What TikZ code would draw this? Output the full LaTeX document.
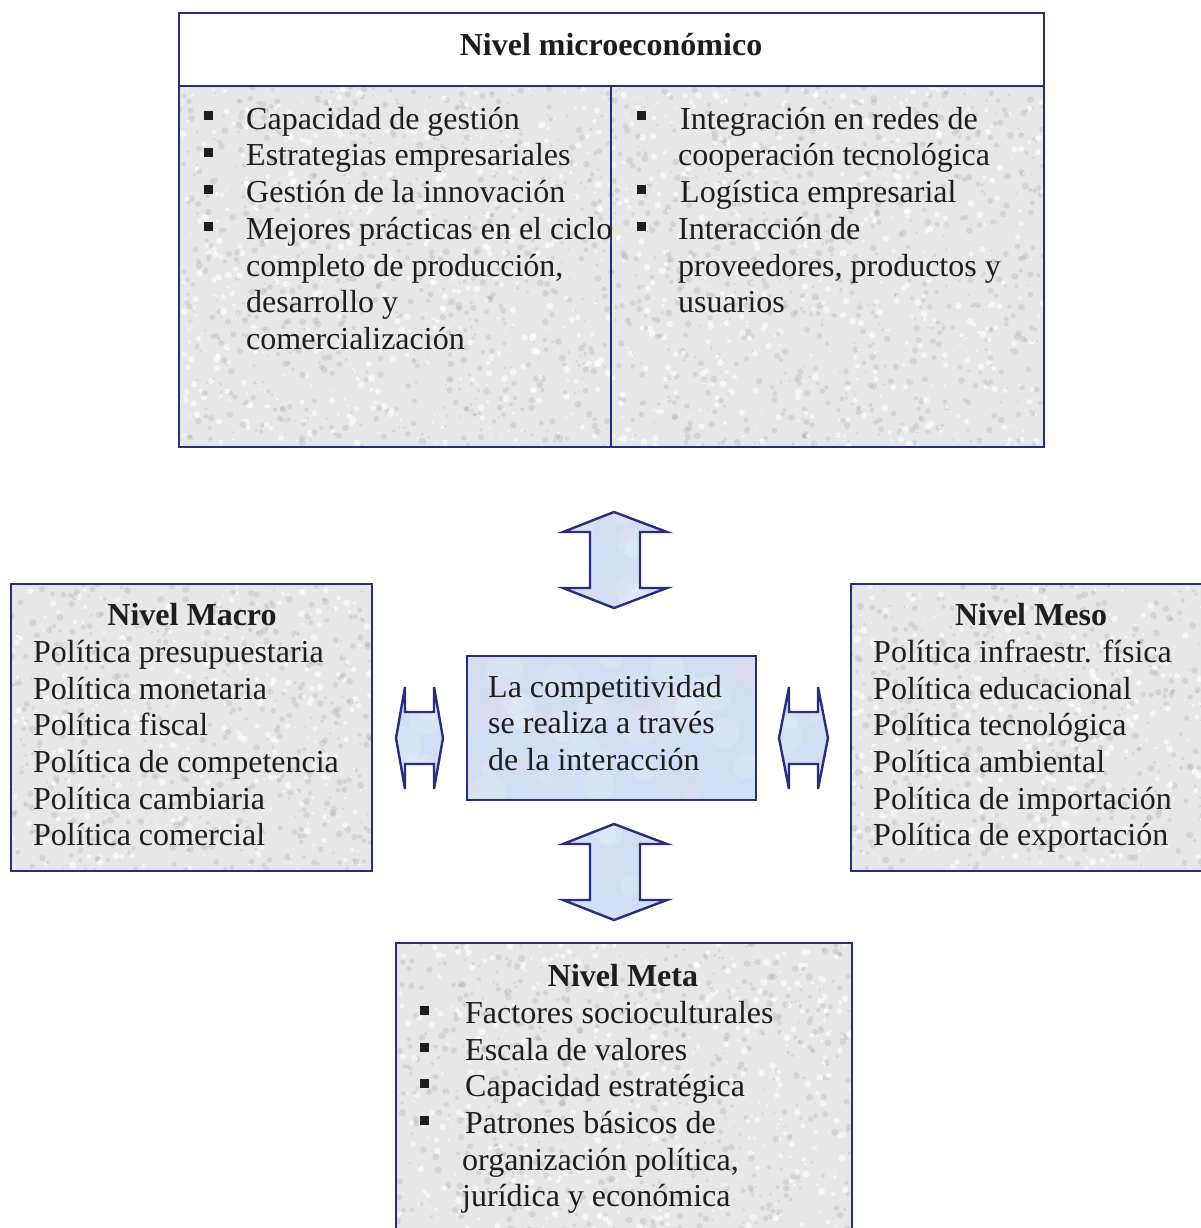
\documentclass[tikz,border=0pt]{standalone}
\usepackage{fontspec}
\setmainfont{Liberation Serif}
\definecolor{navy}{HTML}{2A2D7C}
\definecolor{granite}{HTML}{E7E7E7}
\definecolor{skyfill}{HTML}{D0DFF3}
\definecolor{lilac}{HTML}{E4D8EE}
\definecolor{inkc}{HTML}{1E1E1E}

\tikzset{
  frame/.style={draw=navy, line width=2.6pt},
  txt/.style={anchor=base west, inner sep=0pt, yshift=-2.5pt, font=\fontsize{32}{38}\selectfont, text=inkc},
  ttl/.style={anchor=base, inner sep=0pt, yshift=-2.5pt, font=\fontsize{32}{38}\selectfont\bfseries, text=inkc},
  bul/.style={fill=inkc, minimum size=9pt, inner sep=0pt},
  dblarrow/.style={draw=navy, line width=2.4pt, line join=miter},
}

% speckled stone fill of a rectangle: x1 y1 x2 y2 count
\newcommand\grainfill[5]{%
  \begin{scope}
    \clip (#1,#2) rectangle (#3,#4);
    \fill[granite] (#1,#2) rectangle (#3,#4);
    \foreach \k in {1,...,#5}{%
      \pgfmathsetmacro\gx{#1+rnd*(#3-#1)}%
      \pgfmathsetmacro\gy{#2+rnd*(#4-#2)}%
      \pgfmathsetmacro\gs{1+rnd*2.6}%
      \pgfmathsetmacro\gt{rnd}%
      \ifdim\gt pt<0.4pt
        \fill[white,opacity=0.6] (\gx,\gy) circle[radius=\gs pt];
      \else
        \fill[black!40,opacity=0.22] (\gx,\gy) circle[radius=\gs pt];
      \fi
    }
  \end{scope}}

% cloudy pale-blue fill of the current clip region: x1 y1 x2 y2 count
\newcommand\cloudfill[5]{%
  \fill[skyfill] (#1,#2) rectangle (#3,#4);
  \foreach \k in {1,...,#5}{%
    \pgfmathsetmacro\gx{#1+rnd*(#3-#1)}%
    \pgfmathsetmacro\gy{#2+rnd*(#4-#2)}%
    \pgfmathsetmacro\gs{6+rnd*14}%
    \pgfmathsetmacro\gt{rnd}%
    \ifdim\gt pt<0.5pt
      \fill[lilac,opacity=0.28] (\gx,\gy) circle[radius=\gs pt];
    \else
      \fill[white,opacity=0.16] (\gx,\gy) circle[radius=\gs pt];
    \fi
  }}

\begin{document}
\begin{tikzpicture}[x=1pt,y=-1pt]
\pgfmathsetseed{11}
\useasboundingbox (0,0) rectangle (1201,1228);

% ---------- micro level ----------
\fill[white] (179,13) rectangle (1044,86);
\grainfill{179}{86}{1044}{447}{2600}
\draw[frame] (179,13) rectangle (1044,447);
\draw[frame] (179,86) -- (1044,86);
\draw[frame] (611,86) -- (611,447);
\node[ttl] (microT) at (611,53) {Nivel microeconómico};

\node[bul] (mb1) at (208,116) {};
\node[txt] (m1) at (246,127) {Capacidad de gestión};
\node[bul] (mb2) at (208,152) {};
\node[txt] (m2) at (246,163) {Estrategias empresariales};
\node[bul] (mb3) at (208,189) {};
\node[txt] (m3) at (246,200) {Gestión de la innovación};
\node[bul] (mb4) at (208,226) {};
\node[txt] (m4) at (246,237) {Mejores prácticas en el ciclo};
\node[txt] (m5) at (246,274) {completo de producción,};
\node[txt] (m6) at (246,310) {desarrollo y};
\node[txt] (m7) at (246,347) {comercialización};

\node[bul] (rb1) at (641,116) {};
\node[txt] (r1) at (680,127) {Integración en redes de};
\node[txt] (r2) at (678,163) {cooperación tecnológica};
\node[bul] (rb2) at (641,189) {};
\node[txt] (r3) at (680,200) {Logística empresarial};
\node[bul] (rb3) at (641,226) {};
\node[txt] (r4) at (678,237) {Interacción de};
\node[txt] (r5) at (678,274) {proveedores, productos y};
\node[txt] (r6) at (678,310) {usuarios};

% ---------- macro level ----------
\grainfill{11}{584}{372}{871}{900}
\draw[frame] (11,584) rectangle (372,871);
\node[ttl] (macroT) at (192,623) {Nivel Macro};
\node[txt] (a1) at (33,660) {Política presupuestaria};
\node[txt] (a2) at (33,697) {Política monetaria};
\node[txt] (a3) at (33,733) {Política fiscal};
\node[txt] (a4) at (33,770) {Política de competencia};
\node[txt] (a5) at (33,807) {Política cambiaria};
\node[txt] (a6) at (33,843) {Política comercial};

% ---------- meso level ----------
\grainfill{851}{584}{1210}{871}{900}
\draw[frame] (851,584) rectangle (1210,871);
\node[ttl] (mesoT) at (1031,623) {Nivel Meso};
\node[txt] (s1) at (873,660) {Política infraestr. física};
\node[txt] (s2) at (873,697) {Política educacional};
\node[txt] (s3) at (873,733) {Política tecnológica};
\node[txt] (s4) at (873,770) {Política ambiental};
\node[txt] (s5) at (873,807) {Política de importación};
\node[txt] (s6) at (873,843) {Política de exportación};

% ---------- meta level ----------
\grainfill{396}{943}{852}{1240}{1150}
\draw[frame] (396,943) rectangle (852,1240);
\node[ttl] (metaT) at (623,984) {Nivel Meta};
\node[bul] (tb1) at (424,1010) {};
\node[txt] (t1) at (465,1021) {Factores socioculturales};
\node[bul] (tb2) at (424,1047) {};
\node[txt] (t2) at (465,1058) {Escala de valores};
\node[bul] (tb3) at (424,1083) {};
\node[txt] (t3) at (465,1094) {Capacidad estratégica};
\node[bul] (tb4) at (424,1120) {};
\node[txt] (t4) at (465,1131) {Patrones básicos de};
\node[txt] (t5) at (462,1168) {organización política,};
\node[txt] (t6) at (462,1204) {jurídica y económica};

% ---------- core ----------
\begin{scope}
  \clip (467,656) rectangle (756,800);
  \cloudfill{467}{656}{756}{800}{60}
\end{scope}
\draw[frame] (467,656) rectangle (756,800);
\node[txt] (c1) at (488,695) {La competitividad};
\node[txt] (c2) at (488,731) {se realiza a través};
\node[txt] (c3) at (488,768) {de la interacción};

% ---------- two-headed arrows ----------
\coordinate (upA) at (614,560);
\coordinate (downA) at (614,872);
\coordinate (leftA) at (419.5,738);
\coordinate (rightA) at (803.5,738);

\def\vshape{(0,-48) -- (53,-28) -- (26,-28) -- (26,28) -- (53,28) -- (0,48)
    -- (-51,28) -- (-24,28) -- (-24,-28) -- (-51,-28) -- cycle}
\def\hshapeL{(-23.5,0) -- (-14.5,-51) -- (-14.5,-26) -- (14.5,-26) -- (14.5,-51)
    -- (23.5,0) -- (14.5,51) -- (14.5,26) -- (-14.5,26) -- (-14.5,51) -- cycle}
\def\hshapeR{(-24.5,0) -- (-14.5,-51) -- (-14.5,-26) -- (14.5,-26) -- (14.5,-51)
    -- (24.5,0) -- (14.5,51) -- (14.5,26) -- (-14.5,26) -- (-14.5,51) -- cycle}

\begin{scope}[shift={(upA)}]
  \begin{scope}\clip \vshape; \cloudfill{-55}{-50}{55}{50}{14}\end{scope}
  \draw[dblarrow] \vshape;
\end{scope}
\begin{scope}[shift={(downA)}]
  \begin{scope}\clip \vshape; \cloudfill{-55}{-50}{55}{50}{14}\end{scope}
  \draw[dblarrow] \vshape;
\end{scope}
\begin{scope}[shift={(leftA)}]
  \begin{scope}\clip \hshapeL; \cloudfill{-25}{-52}{25}{52}{8}\end{scope}
  \draw[dblarrow] \hshapeL;
\end{scope}
\begin{scope}[shift={(rightA)}]
  \begin{scope}\clip \hshapeR; \cloudfill{-25}{-52}{25}{52}{8}\end{scope}
  \draw[dblarrow] \hshapeR;
\end{scope}
\end{tikzpicture}
\end{document}
